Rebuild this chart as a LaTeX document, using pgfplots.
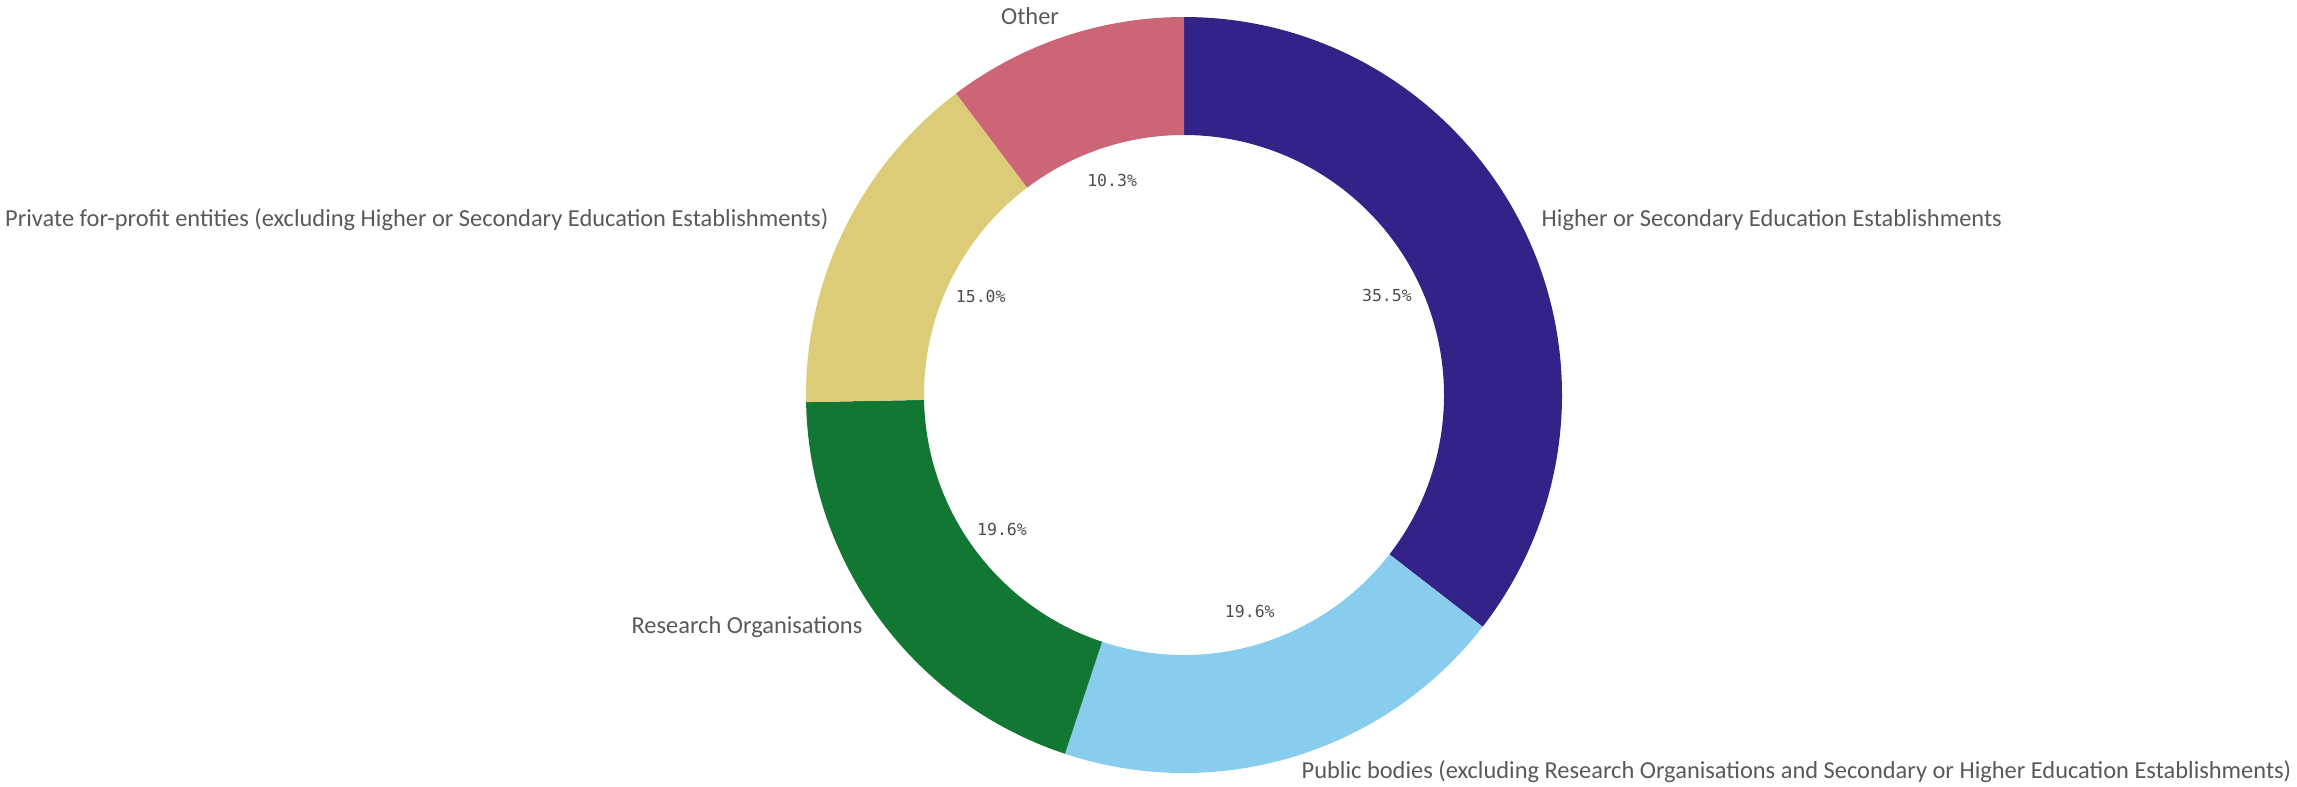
\documentclass[border=0pt]{standalone}
\usepackage{pgfplots}
\usepackage{pgfplotstable}
\pgfplotsset{compat=1.18}
\usepackage{fontspec}
\setmainfont{Carlito}
\newfontfamily\pctfont{DejaVu Sans Mono}

\definecolor{cA}{HTML}{332288}
\definecolor{cB}{HTML}{88CCEE}
\definecolor{cC}{HTML}{117733}
\definecolor{cD}{HTML}{DDCC77}
\definecolor{cE}{HTML}{CC6677}
\definecolor{txt}{HTML}{595959}
\definecolor{pct}{HTML}{4D4D4D}

% share of each group, clockwise from 12 o'clock
\pgfplotstableread{
value col
35.5 cA
19.6 cB
19.6 cC
15.0 cD
10.3 cE
}\slices

\begin{document}
\begin{tikzpicture}
\begin{axis}[
  x=1cm, y=1cm,
  xmin=0, xmax=22.97, ymin=0, ymax=7.86,
  hide axis, clip=false,
]
  \coordinate (O) at (axis cs:11.84,3.91);
  \coordinate (BL) at (axis cs:0,0);
  \coordinate (TR) at (axis cs:22.97,7.86);
  \begin{scope}[every node/.style={text=txt, font=\fontsize{6.95}{8}\selectfont, inner sep=0pt}]
    \node[anchor=west]  at (axis cs:15.41,5.66) {Higher or Secondary Education Establishments};
    \node[anchor=west]  at (axis cs:13.01,0.14) {Public bodies (excluding Research Organisations and Secondary or Higher Education Establishments)};
    \node[anchor=east]  at (axis cs:8.63,1.59) {Research Organisations};
    \node[anchor=east]  at (axis cs:8.29,5.66) {Private for-profit entities (excluding Higher or Secondary Education Establishments)};
    \node[anchor=center] at (axis cs:10.30,7.70) {Other};
  \end{scope}
\end{axis}

% ring slices, from the table values (1 axis unit = 1cm)
\xdef\cum{90}
\foreach \i in {0,...,4}{
  \pgfplotstablegetelem{\i}{value}\of\slices
  \let\v\pgfplotsretval
  \pgfplotstablegetelem{\i}{col}\of\slices
  \let\c\pgfplotsretval
  \pgfmathsetmacro\a{\cum}
  \pgfmathsetmacro\b{\cum-\v*3.6}
  \pgfmathsetmacro\m{(\a+\b)/2}
  \fill[fill=\c] ([shift={(\a:3.78)}]O) arc[start angle=\a, end angle=\b, radius=3.78]
    -- ([shift={(\b:2.60)}]O) arc[start angle=\b, end angle=\a, radius=2.60] -- cycle;
  \node[text=pct, font=\pctfont\fontsize{4.7}{6}\selectfont, inner sep=0pt]
    at ([shift={(\m:2.26)}]O) {\pgfmathprintnumber[fixed,fixed zerofill,precision=1,assume math mode=true]{\v}\%};
  \xdef\cum{\b}
}
\pgfresetboundingbox
\path[use as bounding box] (BL) rectangle (TR);
\end{tikzpicture}
\end{document}
